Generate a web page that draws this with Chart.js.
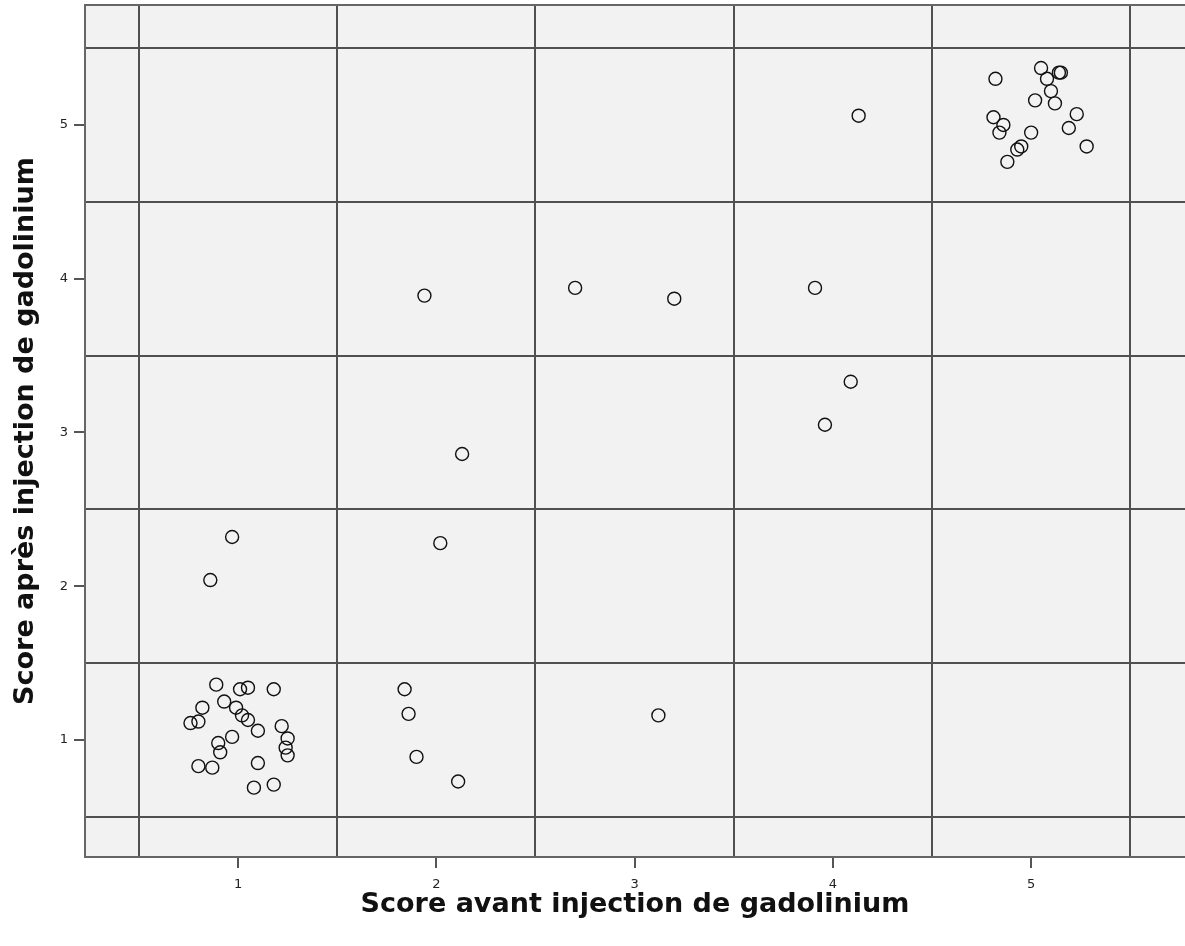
<!DOCTYPE html>
<html>
<head>
<meta charset="utf-8">
<script src="https://cdn.jsdelivr.net/npm/chart.js@4"></script>
<style>
  html, body { margin: 0; padding: 0; background: #fff; overflow: hidden; }
  #wrap { width: 1185px; height: 946px; position: relative; }
</style>
</head>
<body>
<div id="wrap"><canvas id="chart"></canvas></div>
<script>
// scores, one point per patient
const scoreAvant = [
  4.82, 5.05, 5.08, 5.15, 5.14, 5.10, 5.02, 5.12, 4.81, 4.86, 4.84, 5.23, 5.19, 5.00, 4.95, 4.93, 5.28, 4.88,
  4.13, 1.94, 2.70, 3.20, 3.91, 4.09, 3.96, 2.13, 2.02, 0.97, 0.86,
  1.84, 1.86, 1.90, 2.11, 3.12,
  0.89, 1.01, 1.05, 1.18, 0.93, 0.82, 0.99, 1.02, 1.05, 0.76, 0.80, 1.10, 1.22, 1.25, 0.97, 0.90, 0.91, 1.24, 1.25, 0.80, 0.87, 1.10, 1.08, 1.18
]
const scoreApres = [
  5.30, 5.37, 5.30, 5.34, 5.34, 5.22, 5.16, 5.14, 5.05, 5.00, 4.95, 5.07, 4.98, 4.95, 4.86, 4.84, 4.86, 4.76,
  5.06, 3.89, 3.94, 3.87, 3.94, 3.33, 3.05, 2.86, 2.28, 2.32, 2.04,
  1.33, 1.17, 0.89, 0.73, 1.16,
  1.36, 1.33, 1.34, 1.33, 1.25, 1.21, 1.21, 1.16, 1.13, 1.11, 1.12, 1.06, 1.09, 1.01, 1.02, 0.98, 0.92, 0.95, 0.90, 0.83, 0.82, 0.85, 0.69, 0.71
]
const tickValues = [1, 2, 3, 4, 5]
const gridValues = [0.5, 1.5, 2.5, 3.5, 4.5, 5.5]
const xRange = [0.228, 5.776]
const yRange = [0.239, 5.78]

const points = scoreAvant.map((x, i) => ({ x: x, y: scoreApres[i] }))

const plotBackground = {
  id: 'plotBackground',
  beforeDraw (chart) {
    const a = chart.chartArea
    const ctx = chart.ctx
    ctx.save()
    ctx.fillStyle = '#f2f2f2'
    ctx.fillRect(a.left, a.top, a.right - a.left, a.bottom - a.top)
    ctx.restore()
  }
}

const setTicks = vals => scale => { scale.ticks = vals.map(v => ({ value: v })) }

// fixed axis boxes, no extra label padding pushing the plot area around
const fixBox = (w, h) => s => {
  if (w !== null) s.width = w
  if (h !== null) s.height = h
  s.paddingTop = s.paddingBottom = s.paddingLeft = s.paddingRight = 0
}

const tickFont = { family: 'DejaVu Sans', size: 13 }
const titleFont = { family: 'DejaVu Sans', size: 27, weight: 'bold' }

new Chart(document.getElementById('chart'), {
  type: 'scatter',
  data: {
    datasets: [{
      data: points,
      pointStyle: 'circle',
      pointRadius: 6.5,
      pointHoverRadius: 6.5,
      pointBorderWidth: 1.4,
      borderColor: '#111',
      backgroundColor: 'rgba(0,0,0,0)'
    }]
  },
  options: {
    responsive: true,
    maintainAspectRatio: false,
    animation: false,
    // autoPadding would reserve room for the markers at the edges
    layout: { autoPadding: false, padding: { top: 5, right: 0, left: 0, bottom: 0 } },
    plugins: { legend: { display: false }, tooltip: { enabled: false } },
    scales: {
      x: {
        type: 'linear', position: 'bottom',
        min: xRange[0], max: xRange[1],
        afterBuildTicks: setTicks(tickValues),
        afterFit: fixBox(null, 89),
        grid: { drawOnChartArea: false, drawTicks: true, tickLength: 11, color: '#555', lineWidth: 2 },
        border: { display: true, color: '#666', width: 2 },
        ticks: { font: tickFont, color: '#222', padding: 9, maxRotation: 0 },
        title: { display: true, text: 'Score avant injection de gadolinium', font: titleFont, color: '#111', padding: { top: 0, bottom: 25 } }
      },
      y: {
        type: 'linear', position: 'left',
        min: yRange[0], max: yRange[1],
        afterBuildTicks: setTicks(tickValues),
        afterFit: fixBox(85, null),
        grid: { drawOnChartArea: false, drawTicks: true, tickLength: 11, color: '#555', lineWidth: 2 },
        border: { display: true, color: '#666', width: 2 },
        ticks: { font: tickFont, color: '#222', padding: 6 },
        title: { display: true, text: 'Score après injection de gadolinium', font: titleFont, color: '#111', padding: { top: 10, bottom: 0 } }
      },
      x2: {
        type: 'linear', position: 'top',
        min: xRange[0], max: xRange[1],
        afterBuildTicks: setTicks(gridValues),
        afterFit: fixBox(null, 0),
        grid: { drawTicks: false, color: '#505050', lineWidth: 2 },
        border: { display: true, color: '#666', width: 2 },
        ticks: { display: false }
      },
      y2: {
        type: 'linear', position: 'right',
        min: yRange[0], max: yRange[1],
        afterBuildTicks: setTicks(gridValues),
        afterFit: fixBox(0, null),
        grid: { drawTicks: false, color: '#505050', lineWidth: 2 },
        border: { display: false },
        ticks: { display: false }
      }
    }
  },
  plugins: [plotBackground]
})
</script>
</body>
</html>
